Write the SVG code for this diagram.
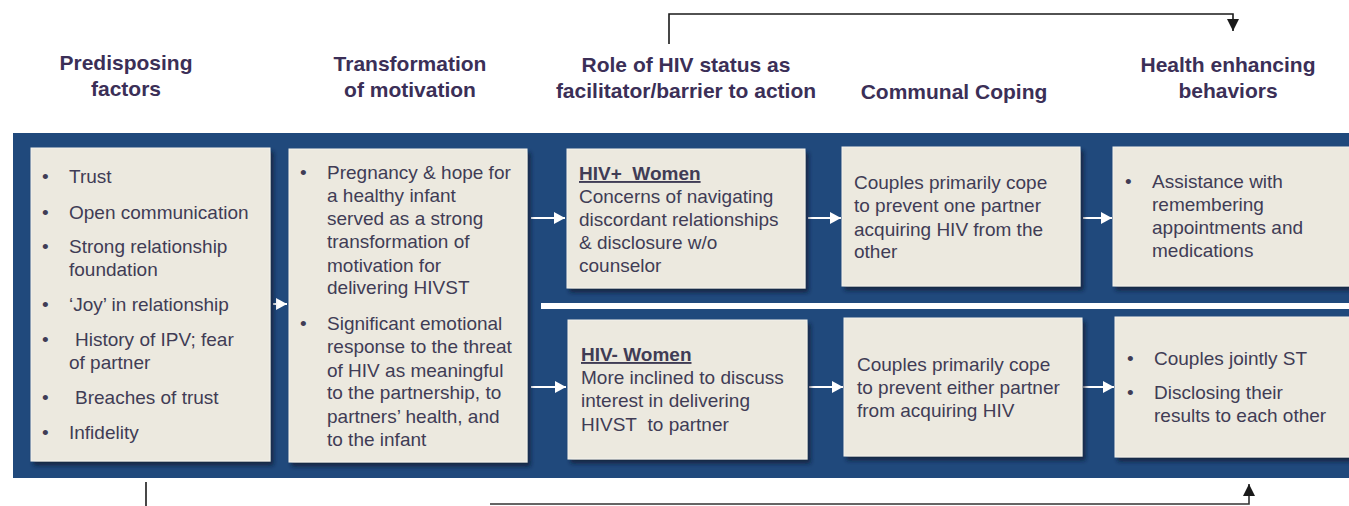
<svg xmlns="http://www.w3.org/2000/svg" width="1349" height="506" viewBox="0 0 1349 506">
<style>
.hd{font-family:"Liberation Sans",Arial,sans-serif;font-size:21px;font-weight:bold;fill:#3b2f57;text-anchor:middle}
.tx{font-family:"Liberation Sans",Arial,sans-serif;font-size:19px;fill:#403c55}
.tb{font-family:"Liberation Sans",Arial,sans-serif;font-size:19px;font-weight:bold;fill:#403c55;text-decoration:underline}
.box{fill:#ece9df;stroke:#f4f2ec;stroke-width:1;filter:url(#sh)}
.wa{stroke:#ffffff;stroke-width:2;fill:none;marker-end:url(#wh)}
.ka{stroke:#1a1a1a;stroke-width:1.6;fill:none}
</style>
<defs>
<filter id="sh" x="-5%" y="-5%" width="115%" height="115%">
<feDropShadow dx="3" dy="4" stdDeviation="2" flood-color="#0a1a30" flood-opacity="0.75"/>
</filter>
<marker id="wh" markerUnits="userSpaceOnUse" markerWidth="12" markerHeight="12" refX="11" refY="6" orient="auto">
<path d="M0,0 L11,6 L0,12 Z" fill="#ffffff"/>
</marker>
<marker id="kh" markerUnits="userSpaceOnUse" markerWidth="12" markerHeight="14" refX="12" refY="6" orient="auto">
<path d="M0,0 L12,6 L0,12 Z" fill="#1a1a1a"/>
</marker>
</defs>
<rect width="1349" height="506" fill="#ffffff"/>

<g id="headers">
<text class="hd" x="126" y="70">Predisposing</text>
<text class="hd" x="126" y="96">factors</text>
<text class="hd" x="410" y="71">Transformation</text>
<text class="hd" x="410" y="97">of motivation</text>
<text class="hd" x="686" y="72">Role of HIV status as</text>
<text class="hd" x="686" y="98">facilitator/barrier to action</text>
<text class="hd" x="954" y="99">Communal Coping</text>
<text class="hd" x="1228" y="72">Health enhancing</text>
<text class="hd" x="1228" y="98">behaviors</text>
</g>

<g id="background">
<rect x="13" y="133" width="1336" height="345" fill="#20497c"/>
<rect x="541" y="303" width="808" height="6" fill="#ffffff"/>
</g>

<g id="connectors">
<path class="ka" d="M669,44 V14 H1233 V31" marker-end="url(#kh)"/>
<path class="ka" d="M146,482 V506"/>
<path d="M490,504 H1249 V484" stroke="#333" stroke-width="1.6" fill="none" marker-end="url(#kh)"/>
<line class="wa" x1="273" y1="304" x2="287" y2="304"/>
<line class="wa" x1="531" y1="218" x2="565" y2="218"/>
<line class="wa" x1="531" y1="387" x2="566" y2="387"/>
<line class="wa" x1="808" y1="218" x2="841" y2="218"/>
<line class="wa" x1="809" y1="387" x2="843" y2="387"/>
<line class="wa" x1="1083" y1="218" x2="1112" y2="218"/>
<line class="wa" x1="1083" y1="387" x2="1114" y2="387"/>
</g>

<g id="predisposing">
<rect class="box" x="31" y="148" width="239" height="313"/>
<text class="tx" x="42" y="183">•</text><text class="tx" x="69" y="183">Trust</text>
<text class="tx" x="42" y="219">•</text><text class="tx" x="69" y="219">Open communication</text>
<text class="tx" x="42" y="253">•</text><text class="tx" x="69" y="253">Strong relationship</text>
<text class="tx" x="69" y="276">foundation</text>
<text class="tx" x="42" y="311">•</text><text class="tx" x="69" y="311">‘Joy’ in relationship</text>
<text class="tx" x="42" y="346">•</text><text class="tx" x="75" y="346">History of IPV; fear</text>
<text class="tx" x="69" y="369">of partner</text>
<text class="tx" x="42" y="404">•</text><text class="tx" x="75" y="404">Breaches of trust</text>
<text class="tx" x="42" y="439">•</text><text class="tx" x="69" y="439">Infidelity</text>
</g>

<g id="transformation">
<rect class="box" x="289" y="149" width="238" height="313"/>
<text class="tx" x="300" y="179">•</text>
<text class="tx" x="327" y="179">Pregnancy &amp; hope for</text>
<text class="tx" x="327" y="202">a healthy infant</text>
<text class="tx" x="327" y="225">served as a strong</text>
<text class="tx" x="327" y="248">transformation of</text>
<text class="tx" x="327" y="272">motivation for</text>
<text class="tx" x="327" y="294">delivering HIVST</text>
<text class="tx" x="300" y="330">•</text>
<text class="tx" x="327" y="330">Significant emotional</text>
<text class="tx" x="327" y="353">response to the threat</text>
<text class="tx" x="327" y="377">of HIV as meaningful</text>
<text class="tx" x="327" y="399">to the partnership, to</text>
<text class="tx" x="327" y="423">partners’ health, and</text>
<text class="tx" x="327" y="446">to the infant</text>
</g>

<g id="hiv-pos">
<rect class="box" x="567" y="149" width="238" height="139"/>
<text class="tb" x="579" y="180">HIV+&#160; Women</text>
<text class="tx" x="579" y="203">Concerns of navigating</text>
<text class="tx" x="579" y="226">discordant relationships</text>
<text class="tx" x="579" y="249">&amp; disclosure w/o</text>
<text class="tx" x="579" y="272">counselor</text>
</g>

<g id="coping-pos">
<rect class="box" x="842" y="147" width="238" height="139"/>
<text class="tx" x="854" y="189">Couples primarily cope</text>
<text class="tx" x="854" y="212">to prevent one partner</text>
<text class="tx" x="854" y="236">acquiring HIV from the</text>
<text class="tx" x="854" y="258">other</text>
</g>

<g id="health-pos">
<rect class="box" x="1113" y="147" width="245" height="139"/>
<text class="tx" x="1125" y="188">•</text>
<text class="tx" x="1152" y="188">Assistance with</text>
<text class="tx" x="1152" y="211">remembering</text>
<text class="tx" x="1152" y="234">appointments and</text>
<text class="tx" x="1152" y="257">medications</text>
</g>

<g id="hiv-neg">
<rect class="box" x="568" y="320" width="239" height="139"/>
<text class="tb" x="581" y="361">HIV- Women</text>
<text class="tx" x="581" y="384">More inclined to discuss</text>
<text class="tx" x="581" y="407">interest in delivering</text>
<text class="tx" x="581" y="431">HIVST&#160; to partner</text>
</g>

<g id="coping-neg">
<rect class="box" x="844" y="318" width="238" height="138"/>
<text class="tx" x="857" y="371">Couples primarily cope</text>
<text class="tx" x="857" y="394">to prevent either partner</text>
<text class="tx" x="857" y="417">from acquiring HIV</text>
</g>

<g id="health-neg">
<rect class="box" x="1115" y="317" width="245" height="140"/>
<text class="tx" x="1127" y="365">•</text>
<text class="tx" x="1154" y="365">Couples jointly ST</text>
<text class="tx" x="1127" y="399">•</text>
<text class="tx" x="1154" y="399">Disclosing their</text>
<text class="tx" x="1154" y="422">results to each other</text>
</g>
</svg>
